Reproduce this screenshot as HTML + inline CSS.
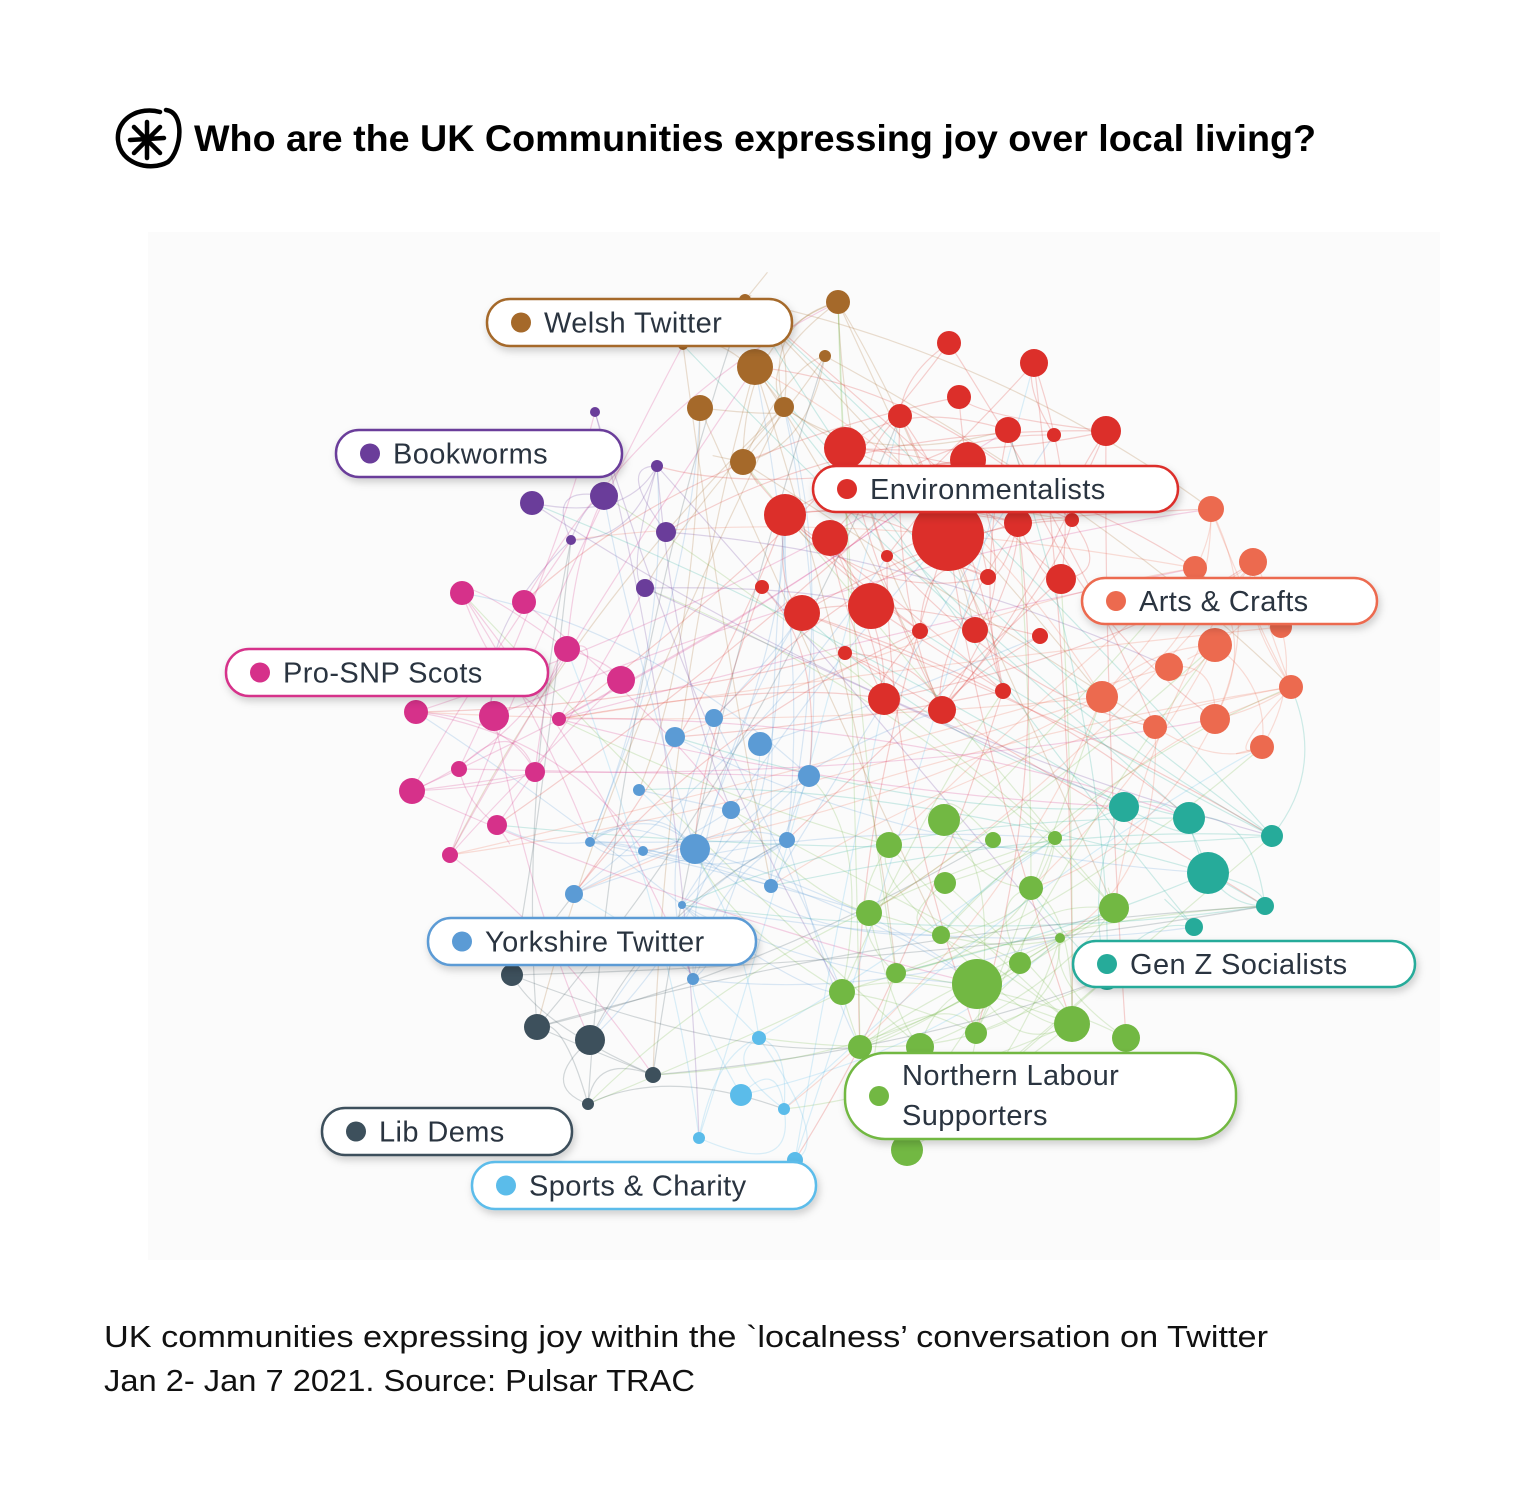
<!DOCTYPE html>
<html><head><meta charset="utf-8"><style>
html,body{margin:0;padding:0;background:#fff;width:1536px;height:1496px;overflow:hidden;font-family:"Liberation Sans",sans-serif}
</style></head><body>
<svg id="s" width="1536" height="1496" xmlns="http://www.w3.org/2000/svg" style="position:absolute;left:0;top:0">
<defs><filter id="sh" x="-10%" y="-30%" width="120%" height="180%"><feDropShadow dx="2" dy="4" stdDeviation="4" flood-color="#000" flood-opacity="0.18"/></filter></defs>
<rect x="148" y="232" width="1292" height="1028" fill="#fbfbfb"/>
<g id="edges" fill="none" stroke-width="1.2" stroke-opacity="0.22"></g>
<g id="nodes"></g>
<g id="labels"></g>
<g stroke="#000" fill="none" stroke-linecap="round">
<path d="M166 110 C 185 112, 182 150, 168 162 C 150 172, 120 164, 118 140 C 116 118, 140 106, 160 112" stroke-width="4.5"/>
<g stroke-width="4.5"><line x1="147" y1="122" x2="147" y2="158"/><line x1="130" y1="140" x2="164" y2="138"/><line x1="134" y1="127" x2="160" y2="153"/><line x1="160" y1="127" x2="134" y2="153"/></g>
</g>
<text x="194" y="151" font-size="37" font-weight="bold" fill="#000" textLength="1122" lengthAdjust="spacingAndGlyphs">Who are the UK Communities expressing joy over local living?</text>
<text x="104" y="1347" font-size="31" fill="#111" textLength="1164" lengthAdjust="spacingAndGlyphs">UK communities expressing joy within the `localness’ conversation on Twitter</text>
<text x="104" y="1391" font-size="31" fill="#111" textLength="591" lengthAdjust="spacingAndGlyphs">Jan 2- Jan 7 2021. Source: Pulsar TRAC</text>
</svg>
<script>
const C={w:"#a5692a",b:"#6a3d9a",e:"#dc2f2a",a:"#ec6a4f",p:"#d6318a",y:"#5b9bd5",g:"#26ab9a",n:"#72b843",l:"#3d505c",s:"#5bbcea"};
const N={
w:[[838,302,12],[755,367,18],[700,408,13],[784,407,10],[743,462,13],[825,356,6],[745,300,6],[683,345,5]],
b:[[604,496,14],[532,503,12],[666,532,10],[657,466,6],[645,588,9],[595,412,5],[571,540,5]],
e:[[948,535,36],[871,606,23],[845,448,21],[785,515,21],[830,538,18],[802,613,18],[968,460,18],[884,699,16],[942,710,14],[1061,579,15],[1018,523,14],[975,630,13],[1008,430,13],[1106,431,15],[1034,363,14],[949,343,12],[959,397,12],[900,416,12],[920,631,8],[845,653,7],[1040,636,8],[1003,691,8],[988,577,8],[762,587,7],[887,556,6],[1054,435,7],[1072,520,7]],
a:[[1211,509,13],[1253,562,14],[1195,568,12],[1215,645,17],[1169,667,14],[1102,697,16],[1155,727,12],[1215,719,15],[1262,747,12],[1291,687,12],[1281,627,11]],
p:[[462,593,12],[524,602,12],[567,649,13],[621,680,14],[416,712,12],[494,716,15],[559,719,7],[459,769,8],[535,772,10],[412,791,13],[497,825,10],[450,855,8]],
y:[[714,718,9],[675,737,10],[760,744,12],[809,776,11],[639,790,6],[731,810,9],[695,849,15],[787,840,8],[590,842,5],[643,851,5],[771,886,7],[574,894,9],[682,905,4],[693,979,6]],
g:[[1124,807,15],[1189,818,16],[1208,873,21],[1272,836,11],[1265,906,9],[1194,927,9],[1107,978,12]],
n:[[944,820,16],[889,845,13],[993,840,8],[1055,838,7],[945,883,11],[1031,888,12],[1114,908,15],[869,913,13],[941,935,9],[1060,938,5],[977,984,25],[1020,963,11],[896,973,10],[842,992,13],[1072,1024,18],[976,1033,11],[1126,1038,14],[860,1047,12],[920,1047,14],[907,1150,16]],
l:[[512,975,11],[537,1027,13],[590,1040,15],[653,1075,8],[588,1104,6]],
s:[[759,1038,7],[741,1095,11],[784,1109,6],[699,1138,6],[795,1160,8]]};
let seed=7;function r(){seed=(seed*16807)%2147483647;return seed/2147483647;}
const all=[];for(const k in N)for(const n of N[k])all.push([...n,k]);
const E=document.getElementById('edges'),ND=document.getElementById('nodes'),L=document.getElementById('labels');
let h='';
for(let i=0;i<380;i++){const a=all[Math.floor(r()*all.length)];let b;
 if(r()<0.45){const g=N[a[3]];b=g[Math.floor(r()*g.length)];b=[...b,a[3]];}else b=all[Math.floor(r()*all.length)];
 if(a===b)continue;const mx=(a[0]+b[0])/2+(r()-.5)*120,my=(a[1]+b[1])/2+(r()-.5)*120;
 h+=`<path d="M${a[0]} ${a[1]}Q${mx} ${my} ${b[0]} ${b[1]}" stroke="${C[a[3]]}"/>`;}
E.innerHTML=h;h='';
for(const n of all)h+=`<circle cx="${n[0]}" cy="${n[1]}" r="${n[2]}" fill="${C[n[3]]}"/>`;
ND.innerHTML=h;
const LB=[["w",487,299,305,47,"Welsh Twitter"],["b",336,430,286,47,"Bookworms"],["e",813,466,365,46,"Environmentalists"],["a",1082,578,295,46,"Arts &amp; Crafts"],["p",226,649,322,47,"Pro-SNP Scots"],["y",428,918,328,47,"Yorkshire Twitter"],["g",1073,941,342,46,"Gen Z Socialists"],["l",322,1108,250,47,"Lib Dems"],["s",472,1162,344,47,"Sports &amp; Charity"]];
h='';
for(const l of LB){const [k,x,y,w,hh,t]=l;
 h+=`<rect x="${x}" y="${y}" width="${w}" height="${hh}" rx="23" fill="#fff" stroke="${C[k]}" stroke-width="2.5" filter="url(#sh)"/><circle cx="${x+34}" cy="${y+hh/2}" r="10" fill="${C[k]}"/><text x="${x+57}" y="${y+hh/2+10}" font-size="29" letter-spacing="0.4" fill="#2a3440">${t}</text>`;}
h+=`<rect x="845" y="1053" width="391" height="86" rx="40" fill="#fff" stroke="${C.n}" stroke-width="2.5" filter="url(#sh)"/><circle cx="879" cy="1096" r="10" fill="${C.n}"/><text x="902" y="1085" font-size="29" letter-spacing="0.4" fill="#2a3440">Northern Labour</text><text x="902" y="1125" font-size="29" letter-spacing="0.4" fill="#2a3440">Supporters</text>`;
L.innerHTML=h;
</script>
</body></html>
